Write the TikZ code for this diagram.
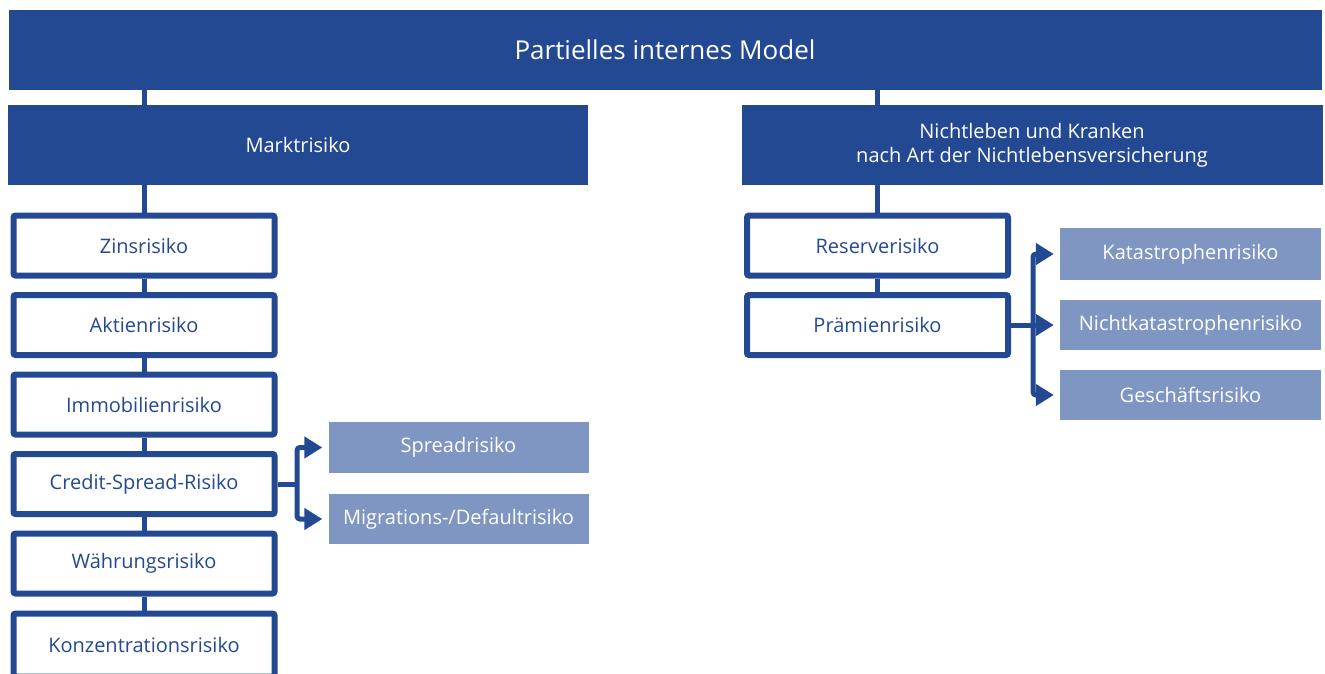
\documentclass[tikz,border=0pt]{standalone}
\usepackage{fontspec}
\setmainfont{Open Sans}
\usetikzlibrary{arrows.meta}
\definecolor{dblue}{RGB}{36,73,147}
\definecolor{lblue}{RGB}{127,150,194}
\begin{document}
\begin{tikzpicture}[x=1pt,y=-1pt,
  darkbox/.style={fill=dblue,text=white,inner sep=0pt,font=\fontsize{20}{24}\selectfont,align=center},
  whitebox/.style={draw=dblue,fill=white,line width=6pt,rounded corners=2pt,text=dblue,inner sep=0pt,
    minimum width=261pt,minimum height=60pt,font=\fontsize{20}{24}\selectfont},
  lightbox/.style={fill=lblue,text=white,inner sep=0pt,minimum width=260pt,minimum height=51pt,
    font=\fontsize{20}{24}\selectfont},
  conn/.style={draw=dblue,line width=5pt},
  arr/.style={draw=dblue,line width=5pt,rounded corners=3pt,shorten >=6pt,-{Triangle[length=18pt,width=21pt]}}]
\useasboundingbox (0,0) rectangle (1325,673);
% top level
\node[darkbox,minimum width=1313pt,minimum height=80pt,font=\fontsize{26}{30}\selectfont] (top) at (665,50) {Partielles internes Model};
\node[darkbox,minimum width=580pt,minimum height=80pt] (markt) at (298,145) {Marktrisiko};
\node[darkbox,minimum width=581pt,minimum height=80pt] (nicht) at (1032,145) {Nichtleben und Kranken\\nach Art der Nichtlebensversicherung};
% left column
\node[whitebox] (zins) at (144,245.5) {Zinsrisiko};
\node[whitebox] (aktien) at (144,325) {Aktienrisiko};
\node[whitebox] (immo) at (144,404.5) {Immobilienrisiko};
\node[whitebox] (credit) at (144,484) {Credit-Spread-Risiko};
\node[whitebox] (waehr) at (144,563.5) {Währungsrisiko};
\node[whitebox,minimum height=63pt] (konz) at (144,645) {Konzentrationsrisiko};
% credit sub
\node[lightbox] (spread) at (458.5,447.5) {Spreadrisiko};
\node[lightbox,minimum height=50pt] (mig) at (458.5,519) {Migrations-/Defaultrisiko};
% right column
\node[whitebox] (reserve) at (877.5,245.5) {Reserverisiko};
\node[whitebox] (praemie) at (877.5,325) {Prämienrisiko};
\node[lightbox,minimum width=261pt,minimum height=52pt] (kat) at (1190.5,254) {Katastrophenrisiko};
\node[lightbox,minimum width=261pt,minimum height=50pt] (nkat) at (1190.5,325) {Nichtkatastrophenrisiko};
\node[lightbox,minimum width=261pt,minimum height=50pt] (gesch) at (1190.5,395) {Geschäftsrisiko};
% connectors
\draw[conn] (top.south -| zins.north) -- (markt.north -| zins.north);
\draw[conn] (markt.south -| zins.north) -- (zins.north);
\draw[conn] (zins.south) -- (aktien.north);
\draw[conn] (aktien.south) -- (immo.north);
\draw[conn] (immo.south) -- (credit.north);
\draw[conn] (credit.south) -- (waehr.north);
\draw[conn] (waehr.south) -- (konz.north);
\draw[conn] (top.south -| reserve.north) -- (nicht.north -| reserve.north);
\draw[conn] (nicht.south -| reserve.north) -- (reserve.north);
\draw[conn] (reserve.south) -- (praemie.north);
% branches
\coordinate (cb) at (297,484);
\draw[conn] (credit.east) -- (cb);
\draw[arr] (cb) |- (spread.west);
\draw[arr] (cb) |- (mig.west);
\coordinate (pb) at (1033,325);
\draw[conn] (praemie.east) -- (pb);
\draw[arr] (pb) |- (kat.west);
\draw[arr] (pb) -- (nkat.west);
\draw[arr] (pb) |- (gesch.west);
\end{tikzpicture}
\end{document}
